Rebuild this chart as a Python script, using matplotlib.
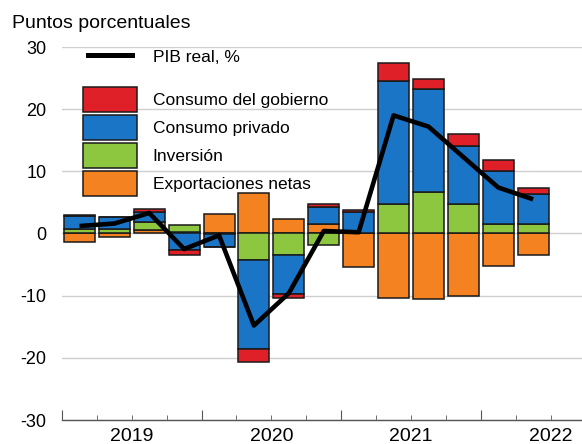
import numpy as np
import matplotlib.pyplot as plt
from matplotlib.patches import Patch
from matplotlib.lines import Line2D
from matplotlib.ticker import FixedLocator

plt.rcParams['font.family'] = ['Liberation Sans', 'DejaVu Sans']
plt.rcParams['axes.unicode_minus'] = False

quarters = ['2019T1', '2019T2', '2019T3', '2019T4',
            '2020T1', '2020T2', '2020T3', '2020T4',
            '2021T1', '2021T2', '2021T3', '2021T4',
            '2022T1', '2022T2']
years = ['2019', '2020', '2021', '2022']

exportaciones = [-1.3, -0.6, 0.6, 0.3, 3.2, 6.5, 2.4, 1.6, -5.4, -10.3, -10.5, -10.0, -5.3, -3.4]
inversion = [0.7, 0.8, 1.2, 1.1, -0.1, -4.2, -3.4, -1.9, 0.0, 4.8, 6.6, 4.7, 1.6, 1.5]
privado = [2.1, 1.8, 1.7, -2.7, -2.0, -14.3, -6.3, 2.6, 3.4, 19.7, 16.6, 9.4, 8.5, 4.9]
gobierno = [0.1, 0.1, 0.5, -0.8, -0.1, -2.1, -0.7, 0.6, 0.3, 3.0, 1.6, 1.9, 1.7, 0.9]
pib = [1.2, 1.6, 3.3, -2.5, -0.3, -14.8, -9.6, 0.4, 0.2, 19.0, 17.2, 12.3, 7.4, 5.5]

series = [
    ('Exportaciones netas', exportaciones, '#F58220'),
    ('Inversión', inversion, '#8DC63F'),
    ('Consumo privado', privado, '#1B75C6'),
    ('Consumo del gobierno', gobierno, '#DF2029'),
]

fig = plt.figure(figsize=(5.82, 4.44), dpi=100)
ax = fig.add_axes([62 / 582, 24 / 444, 520 / 582, 373 / 444])

x = np.arange(len(quarters))
pos_base = np.zeros(len(x))
neg_base = np.zeros(len(x))
for name, vals, col in series:
    v = np.array(vals)
    base = np.where(v >= 0, pos_base, neg_base)
    ax.bar(x, v, bottom=base, width=0.89, color=col, edgecolor='#1a1a1a',
           linewidth=1.1, zorder=2)
    pos_base += np.where(v >= 0, v, 0)
    neg_base += np.where(v < 0, v, 0)

ax.plot(x, pib, color='black', linewidth=3.3, solid_joinstyle='round',
        solid_capstyle='butt', zorder=3)

ax.set_ylim(-30, 30)
ax.set_xlim(-0.5, 14.4)
ax.set_yticks([-30, -20, -10, 0, 10, 20, 30])
ax.yaxis.grid(True, color='#cfcfcf', linewidth=1.0, zorder=0)
ax.set_axisbelow(True)
for s in ['top', 'right', 'left']:
    ax.spines[s].set_visible(False)
ax.spines['bottom'].set_color('#555555')
ax.spines['bottom'].set_linewidth(1.0)
ax.tick_params(axis='y', length=0, pad=11, labelsize=13)

ax.xaxis.set_major_locator(FixedLocator([-0.5, 3.5, 7.5, 11.5]))
ax.xaxis.set_minor_locator(FixedLocator(np.arange(-0.5, 14, 1.0)))
ax.tick_params(axis='x', which='major', direction='in', length=7,
               color='#555555', labelbottom=False)
ax.tick_params(axis='x', which='minor', direction='in', length=3.5,
               color='#555555')
for i, yr in enumerate(years):
    ax.text(1.5 + 4 * i, -0.045, yr, transform=ax.get_xaxis_transform(),
            ha='center', va='center', fontsize=14)

fig.text(12 / 582, 1 - 24 / 444, 'Puntos porcentuales', fontsize=14,
         ha='left', va='center')

line_leg = ax.legend(handles=[Line2D([], [], color='black', linewidth=3.6)],
                     labels=['PIB real, %'], loc='center left',
                     bbox_to_anchor=(88 / 582, 1 - 57 / 444),
                     bbox_transform=fig.transFigure, frameon=False,
                     fontsize=12.5, handlelength=2.53, handletextpad=1.2,
                     borderpad=0, borderaxespad=0)
ax.add_artist(line_leg)

patch_handles = [Patch(facecolor=col, edgecolor='#1a1a1a', linewidth=1.1)
                 for name, vals, col in series[::-1]]
patch_labels = [name for name, vals, col in series[::-1]]
ax.legend(handles=patch_handles, labels=patch_labels, loc='center left',
          bbox_to_anchor=(83 / 582, 1 - 141.5 / 444),
          bbox_transform=fig.transFigure, frameon=False, fontsize=12.5,
          handlelength=3.1, handleheight=1.83, labelspacing=0.17,
          handletextpad=0.92, borderpad=0, borderaxespad=0)

fig.savefig('out.png', dpi=100)
